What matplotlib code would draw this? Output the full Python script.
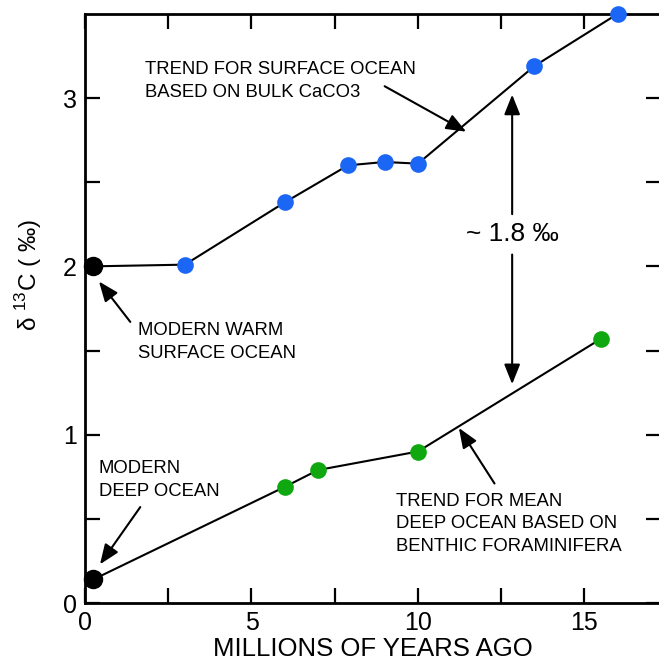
import matplotlib
matplotlib.use("Agg")
import matplotlib.pyplot as plt

plt.rcParams['font.family'] = ['Liberation Sans', 'DejaVu Sans']
plt.rcParams['mathtext.fontset'] = 'custom'
plt.rcParams['mathtext.rm'] = 'Liberation Sans'

# surface ocean trend (bulk CaCO3)
surface_modern = (0.25, 2.0)
surface_age = [3, 6, 7.9, 9, 10, 13.5, 16]
surface_d13c = [2.01, 2.38, 2.60, 2.62, 2.61, 3.19, 3.5]

# mean deep ocean trend (benthic forams)
deep_modern = (0.25, 0.14)
deep_age = [6, 7, 10, 15.5]
deep_d13c = [0.69, 0.79, 0.90, 1.57]

blue = '#1c66f5'
green = '#10a810'

fig = plt.figure(figsize=(6.59, 6.65), dpi=100)
ax = fig.add_axes([0.129, 0.0932, 0.874, 0.886])

# connecting lines
ax.plot([surface_modern[0]] + surface_age, [surface_modern[1]] + surface_d13c,
        color='black', lw=1.5, zorder=2, clip_on=False)
ax.plot([deep_modern[0]] + deep_age, [deep_modern[1]] + deep_d13c,
        color='black', lw=1.5, zorder=2, clip_on=False)

# data points
ax.plot(surface_age, surface_d13c, 'o', color=blue, ms=12, mec='none', zorder=3, clip_on=False)
ax.plot(deep_age, deep_d13c, 'o', color=green, ms=12, mec='none', zorder=3, clip_on=False)
ax.plot(*surface_modern, 'o', color='black', ms=13, zorder=3, clip_on=False)
ax.plot(*deep_modern, 'o', color='black', ms=13, zorder=3, clip_on=False)

arrow = dict(arrowstyle='-|>,head_length=0.55,head_width=0.22', color='black',
             lw=1.5, mutation_scale=22, shrinkA=0, shrinkB=0)
fs = 13.3
ls = 1.45

ax.annotate('', xy=(11.45, 2.8), xytext=(9.0, 3.07), arrowprops=arrow)
ax.text(1.8, 3.1, 'TREND FOR SURFACE OCEAN\nBASED ON BULK CaCO3', fontsize=fs,
        va='center', ha='left', linespacing=ls)

ax.annotate('', xy=(0.42, 1.91), xytext=(1.36, 1.67), arrowprops=arrow)
ax.text(1.6, 1.55, 'MODERN WARM\nSURFACE OCEAN', fontsize=fs,
        va='center', ha='left', linespacing=ls)

ax.annotate('', xy=(0.45, 0.23), xytext=(1.66, 0.57), arrowprops=arrow)
ax.text(0.42, 0.73, 'MODERN\nDEEP OCEAN', fontsize=fs,
        va='center', ha='left', linespacing=ls)

ax.annotate('', xy=(11.23, 1.04), xytext=(12.3, 0.71), arrowprops=arrow)
ax.text(9.35, 0.47, 'TREND FOR MEAN\nDEEP OCEAN BASED ON\nBENTHIC FORAMINIFERA',
        fontsize=fs, va='center', ha='left', linespacing=ls)

# ~1.8 permil offset
ax.annotate('', xy=(12.83, 3.02), xytext=(12.83, 2.31), arrowprops=arrow)
ax.annotate('', xy=(12.83, 1.30), xytext=(12.83, 2.07), arrowprops=arrow)
ax.text(12.83, 2.19, '~ 1.8 ‰', fontsize=19, ha='center', va='center')

ax.set_xlim(0, 17.3)
ax.set_ylim(0, 3.5)
ax.set_xticks([0, 2.5, 5, 7.5, 10, 12.5, 15])
ax.set_xticklabels(['0', '', '5', '', '10', '', '15'])
ax.set_yticks([0, 0.5, 1, 1.5, 2, 2.5, 3])
ax.set_yticklabels(['0', '', '1', '', '2', '', '3'])
ax.tick_params(direction='in', length=11, width=1.6, top=True, right=True,
               labelsize=18, pad=6)
for s in ax.spines.values():
    s.set_linewidth(2)

ax.set_xlabel('MILLIONS OF YEARS AGO', fontsize=18.5, labelpad=1)
ax.set_ylabel('δ $^{13}$C ( ‰)', fontsize=17.5)
ax.yaxis.set_label_coords(-0.072, 0.557)

fig.savefig('out.png', dpi=100, facecolor='white')
